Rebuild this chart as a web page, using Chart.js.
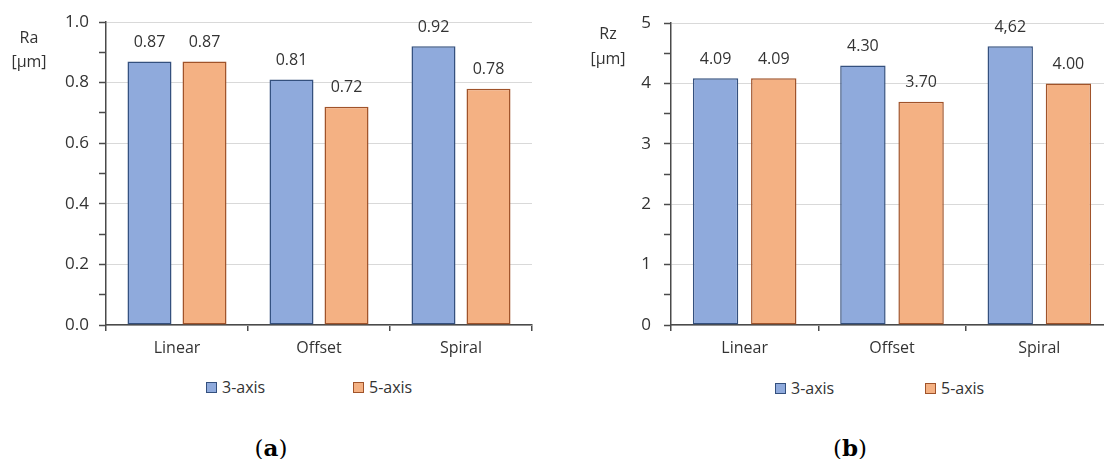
<!DOCTYPE html>
<html>
<head>
<meta charset="utf-8">
<script src="https://cdn.jsdelivr.net/npm/chart.js@4.4.1/dist/chart.umd.min.js"></script>
<style>
  html, body { margin: 0; padding: 0; background: #fff; overflow: hidden; width: 1104px; height: 459px; }
  canvas { position: absolute; top: 0; }
  #chartRa { left: 0; }
  #chartRz { left: 552px; }
  .item { position: absolute; display: flex; align-items: center; font: 16px "Open Sans", sans-serif; color: #333; white-space: nowrap; line-height: 20px; }
  .swatch { display: inline-block; width: 9px; height: 9px; border: 1px solid; margin-right: 5px; }
  .cap { position: absolute; top: 436px; font: 23px "DejaVu Serif", serif; line-height: 23px; color: #000; transform: translateX(-50%); white-space: nowrap; }
  .cap b { font-weight: bold; }
</style>
</head>
<body>
<canvas id="chartRa" width="552" height="370"></canvas>
<canvas id="chartRz" width="580" height="370"></canvas>
<div id="legendRa"></div>
<div id="legendRz"></div>
<div class="cap" style="left:271px">(<b>a</b>)</div>
<div class="cap" style="left:850px">(<b>b</b>)</div>
<script>
// Machining strategies and the two machine setups
const categories = ['Linear', 'Offset', 'Spiral'];
const seriesNames = ['3-axis', '5-axis'];

// Ra roughness, µm
const ra3 = [0.87, 0.81, 0.92];
const ra5 = [0.87, 0.72, 0.78];
const ra3Text = ['0.87', '0.81', '0.92'];
const ra5Text = ['0.87', '0.72', '0.78'];
const raTicks = ['0.0', '0.2', '0.4', '0.6', '0.8', '1.0'];

// Rz roughness, µm
const rz3 = [4.09, 4.30, 4.62];
const rz5 = [4.09, 3.70, 4.00];
const rz3Text = ['4.09', '4.30', '4,62'];
const rz5Text = ['4.09', '3.70', '4.00'];
const rzTicks = ['0', '1', '2', '3', '4', '5'];

const FILL = ['#8faadc', '#f4b183'];
const EDGE = ['#34507e', '#a0532a'];
const TEXT = '#333333';
const AXIS = '#4a4a4a';
const GRID = '#d9d9d9';
const FONT = '"Open Sans", sans-serif';

// Numbers printed above each bar
const valueLabels = {
  id: 'valueLabels',
  afterDatasetsDraw(chart, args, opts) {
    const ctx = chart.ctx;
    ctx.save();
    ctx.font = '16px ' + FONT;
    ctx.fillStyle = TEXT;
    ctx.textAlign = 'center';
    ctx.textBaseline = 'middle';
    chart.data.datasets.forEach((ds, i) => {
      chart.getDatasetMeta(i).data.forEach((bar, j) => {
        ctx.fillText(ds.valueText[j], bar.x, bar.y - opts.gap);
      });
    });
    ctx.restore();
  }
};

// Quantity name and unit, set horizontally left of the value axis
const unitTitle = {
  id: 'unitTitle',
  afterDraw(chart, args, opts) {
    const ctx = chart.ctx;
    ctx.save();
    ctx.font = '16px ' + FONT;
    ctx.fillStyle = TEXT;
    ctx.textAlign = 'center';
    ctx.textBaseline = 'middle';
    opts.lines.forEach((t, k) => ctx.fillText(t, opts.x, opts.y + k * opts.step));
    ctx.restore();
  }
};

function makeChart(id, a, b, aText, bText, tickText, step, max, geo) {
  return new Chart(document.getElementById(id), {
    type: 'bar',
    data: {
      labels: categories,
      datasets: [
        { label: seriesNames[0], data: a, valueText: aText, backgroundColor: FILL[0], borderColor: EDGE[0], borderWidth: 1.5, borderSkipped: false },
        { label: seriesNames[1], data: b, valueText: bText, backgroundColor: FILL[1], borderColor: EDGE[1], borderWidth: 1.5, borderSkipped: false }
      ]
    },
    options: {
      responsive: false,
      animation: false,
      events: [],
      categoryPercentage: geo.cat,
      barPercentage: geo.bar,
      layout: { padding: { left: 0, right: geo.right, top: geo.top, bottom: 0 } },
      plugins: {
        legend: { display: false },
        tooltip: { enabled: false },
        valueLabels: { gap: 19 },
        unitTitle: geo.title
      },
      scales: {
        x: {
          afterFit: s => { s.height = 45; },
          grid: { drawOnChartArea: false, drawTicks: true, tickLength: 6, tickColor: AXIS, lineWidth: 1.5 },
          border: { color: AXIS, width: 1.5 },
          ticks: { color: TEXT, font: { family: FONT, size: 16 }, padding: 8 }
        },
        y: {
          min: 0,
          max: max,
          afterFit: s => { s.width = geo.left; },
          grid: {
            color: c => (c.index % 2 ? 'rgba(0,0,0,0)' : GRID),
            lineWidth: 1,
            tickLength: 7,
            tickColor: AXIS,
            tickWidth: 1.5
          },
          border: { color: AXIS, width: 1.5 },
          ticks: {
            stepSize: step,
            autoSkip: false,
            color: TEXT,
            font: { family: FONT, size: 17 },
            padding: geo.pad,
            callback: (v, i) => (i % 2 ? '' : tickText[i / 2])
          }
        }
      }
    },
    plugins: [valueLabels, unitTitle]
  });
}

makeChart('chartRa', ra3, ra5, ra3Text, ra5Text, raTicks, 0.1, 1.0, {
  left: 106, right: 20, top: 22, pad: 10, cat: 0.775, bar: 0.8,
  title: { lines: ['Ra', '[μm]'], x: 29, y: 38, step: 24 }
});
makeChart('chartRz', rz3, rz5, rz3Text, rz5Text, rzTicks, 0.5, 5, {
  left: 119, right: 19, top: 18, pad: 13, cat: 0.79, bar: 0.78,
  title: { lines: ['Rz', '[μm]'], x: 56, y: 34, step: 25 }
});

// Legends under each panel
function legend(hostId, spots, top) {
  const host = document.getElementById(hostId);
  seriesNames.forEach((name, i) => {
    const item = document.createElement('div');
    item.className = 'item';
    item.style.left = spots[i] + 'px';
    item.style.top = top + 'px';
    const sw = document.createElement('span');
    sw.className = 'swatch';
    sw.style.background = FILL[i];
    sw.style.borderColor = EDGE[i];
    item.appendChild(sw);
    item.appendChild(document.createTextNode(name));
    host.appendChild(item);
  });
}
legend('legendRa', [206, 353], 377);
legend('legendRz', [775, 925], 378);
</script>
</body>
</html>
